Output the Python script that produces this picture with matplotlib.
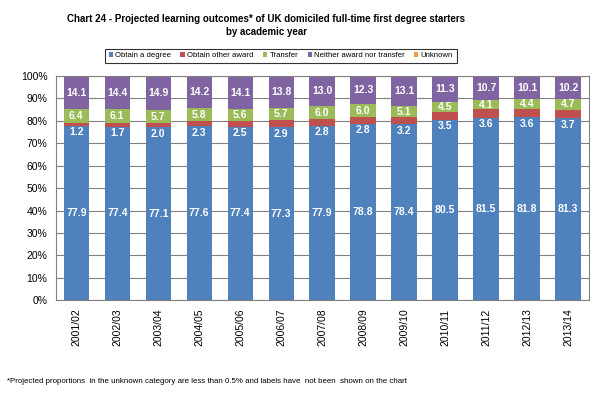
import numpy as np
import matplotlib.pyplot as plt
from matplotlib.ticker import PercentFormatter

years = ['2001/02', '2002/03', '2003/04', '2004/05', '2005/06', '2006/07', '2007/08',
         '2008/09', '2009/10', '2010/11', '2011/12', '2012/13', '2013/14']
degree = [77.9, 77.4, 77.1, 77.6, 77.4, 77.3, 77.9, 78.8, 78.4, 80.5, 81.5, 81.8, 81.3]
other = [1.2, 1.7, 2.0, 2.3, 2.5, 2.9, 2.8, 2.8, 3.2, 3.5, 3.6, 3.6, 3.7]
transfer = [6.4, 6.1, 5.7, 5.8, 5.6, 5.7, 6.0, 6.0, 5.1, 4.5, 4.1, 4.4, 4.7]
neither = [14.1, 14.4, 14.9, 14.2, 14.1, 13.8, 13.0, 12.3, 13.1, 11.3, 10.7, 10.1, 10.2]
unknown = [0.4, 0.4, 0.3, 0.1, 0.4, 0.3, 0.3, 0.1, 0.2, 0.2, 0.1, 0.1, 0.1]

series = [('Obtain a degree', degree, '#4F81BD'),
          ('Obtain other award', other, '#C0504D'),
          ('Transfer', transfer, '#9BBB59'),
          ('Neither award nor transfer', neither, '#8064A2'),
          ('Unknown', unknown, '#F79646')]

plt.rcParams['font.family'] = ['Liberation Sans', 'DejaVu Sans']

fig = plt.figure(figsize=(6, 3.94), dpi=100)
ax = fig.add_axes([0.093, 0.238, 0.888, 0.569])

x = np.arange(len(years))
bottom = np.zeros(len(years))
for name, vals, col in series:
    vals = np.array(vals)
    ax.bar(x, vals, 0.62, bottom=bottom, color=col, label=name, zorder=2)
    bottom += vals

# value labels (the "other award" ones sit just under their thin segment)
lab = dict(color='white', fontsize=7.5, fontweight='bold', ha='center', va='center', zorder=3)
for i in range(len(years)):
    d = degree[i]
    ax.text(x[i], d / 2, f'{d:.1f}', **lab)
    ax.text(x[i], d - 3.0, f'{other[i]:.1f}', **lab)
    base = d + other[i]
    ax.text(x[i], base + transfer[i] / 2, f'{transfer[i]:.1f}', **lab)
    base += transfer[i]
    ax.text(x[i], base + neither[i] / 2, f'{neither[i]:.1f}', **lab)

ax.set_ylim(0, 100)
ax.set_xlim(-0.5, len(years) - 0.5)
ax.set_yticks(np.arange(0, 101, 10))
ax.yaxis.set_major_formatter(PercentFormatter(decimals=0))
ax.set_xticks(x)
ax.set_xticklabels(years, rotation=90)
ax.tick_params(labelsize=7.5, length=0, pad=6)
ax.grid(axis='y', color='#808080', linewidth=0.8, zorder=0)
for s in ax.spines.values():
    s.set_color('#808080')
    s.set_linewidth(0.8)

fig.text(0.444, 0.965, 'Chart 24 - Projected learning outcomes* of UK domiciled full-time first degree starters\nby academic year',
         ha='center', va='top', fontsize=7.0, fontweight='bold', linespacing=1.45)

leg = fig.legend(loc='center', bbox_to_anchor=(0.468, 0.859), ncol=5, fontsize=5.6,
                 frameon=True, fancybox=False, handlelength=0.55, handleheight=0.55,
                 handletextpad=0.3, columnspacing=1.2, borderpad=0.45)
leg.get_frame().set_edgecolor('black')
leg.get_frame().set_linewidth(0.8)

fig.text(0.012, 0.022, '*Projected proportions  in the unknown category are less than 0.5% and labels have  not been  shown on the chart',
         fontsize=5.7, ha='left', va='bottom')

fig.savefig('out.png', dpi=100)
